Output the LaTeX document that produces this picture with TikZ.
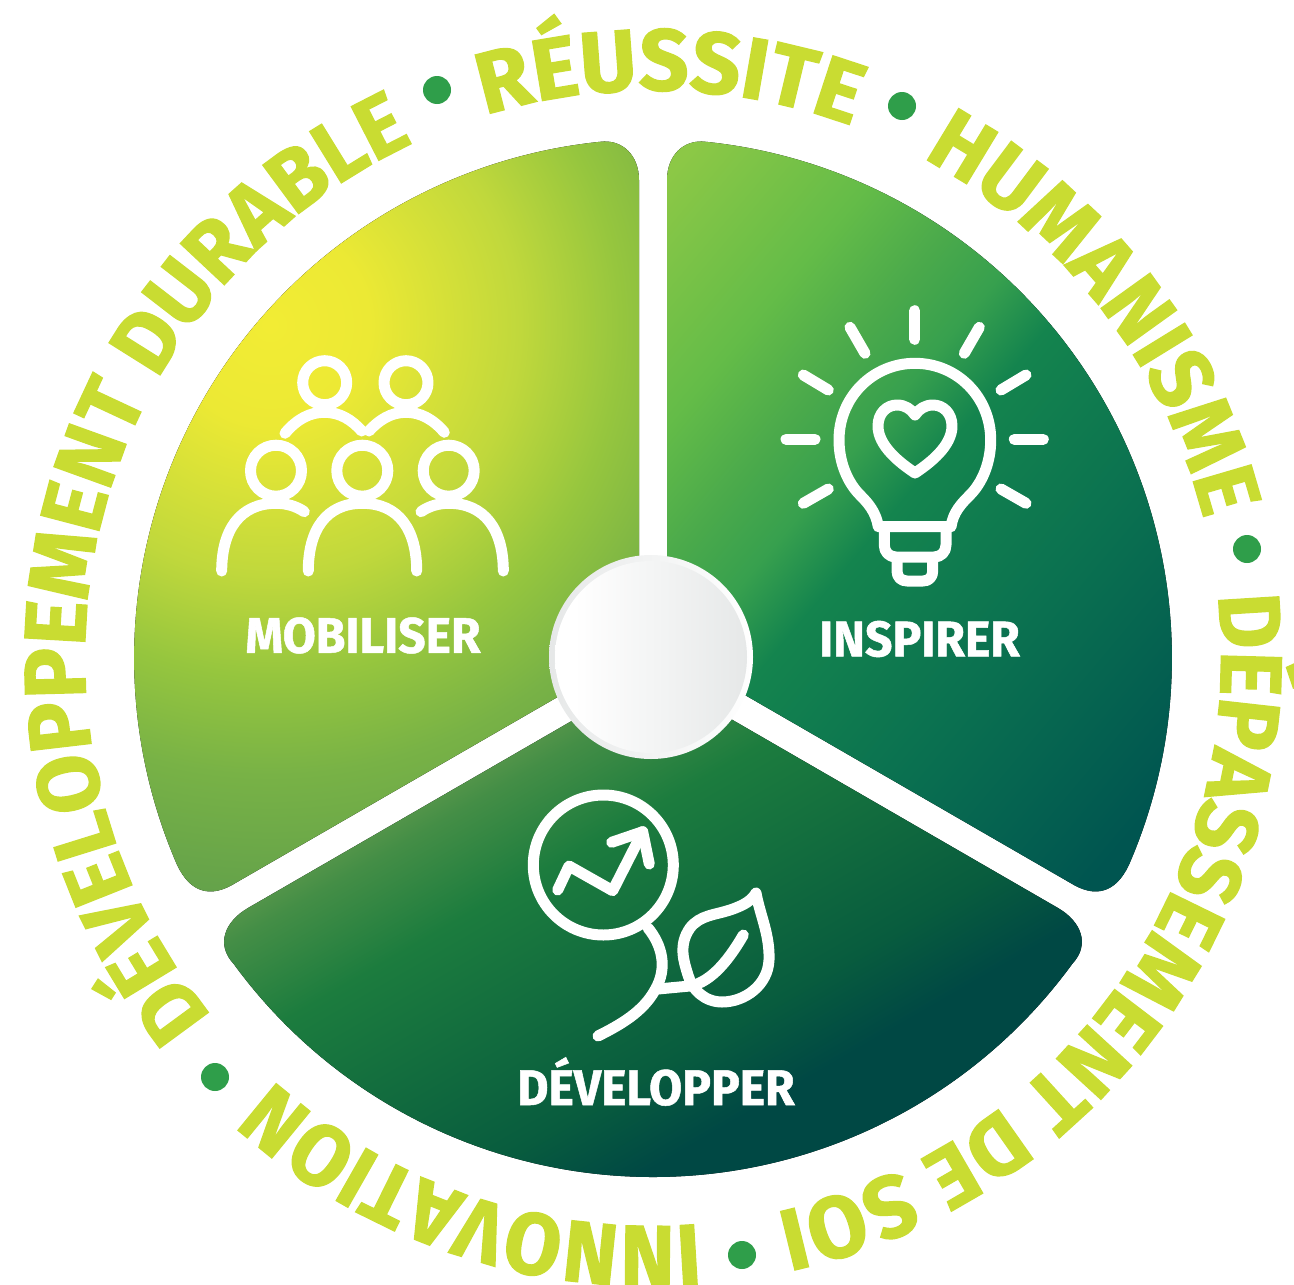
\documentclass[tikz,border=0pt]{standalone}
\usepackage{fontspec}
\usetikzlibrary{decorations.text,calc}
\newfontfamily\dinring{Fira Sans}[FakeStretch=1.0,FakeBold=1.5]
\newfontfamily\dinringb{Fira Sans}[FakeStretch=0.98,FakeBold=1.5]
\newfontfamily\dinringc{Fira Sans}[FakeStretch=0.94,FakeBold=1.5]
\newfontfamily\dinlabel{Fira Sans}[FakeStretch=0.96,FakeBold=1]
\definecolor{ringtxt}{RGB}{201,220,50}
\definecolor{ringdot}{RGB}{47,158,74}
\definecolor{ma}{RGB}{242,236,52}
\definecolor{mb}{RGB}{236,233,52}
\definecolor{mc}{RGB}{192,216,60}
\definecolor{md}{RGB}{150,198,62}
\definecolor{me}{RGB}{120,178,70}
\definecolor{mf}{RGB}{95,158,75}
\definecolor{ia}{RGB}{140,200,70}
\definecolor{ib}{RGB}{100,188,72}
\definecolor{ic}{RGB}{75,170,75}
\definecolor{id}{RGB}{55,160,78}
\definecolor{ie}{RGB}{20,132,78}
\definecolor{if}{RGB}{10,112,80}
\definecolor{ig}{RGB}{0,85,80}
\definecolor{da}{RGB}{90,152,75}
\definecolor{db}{RGB}{68,142,70}
\definecolor{dc}{RGB}{28,124,62}
\definecolor{dd}{RGB}{8,92,62}
\definecolor{de}{RGB}{0,72,68}
\definecolor{ca}{RGB}{230,232,232}
\pgfdeclareradialshading{mobg}{\pgfpoint{0bp}{0bp}}{color(0bp)=(ma);color(3.33bp)=(mb);color(8.33bp)=(mc);color(11.67bp)=(md);color(15bp)=(me);color(20bp)=(mf);color(50bp)=(mf)}
\pgfdeclarehorizontalshading{insg}{100bp}{color(0bp)=(ia);color(37.5bp)=(ia);color(44.17bp)=(ib);color(47.9bp)=(ic);color(50.83bp)=(id);color(53.75bp)=(ie);color(61.25bp)=(if);color(70bp)=(ig);color(100bp)=(ig)}
\pgfdeclarehorizontalshading{devg}{100bp}{color(0bp)=(da);color(50bp)=(da);color(51.46bp)=(db);color(55.42bp)=(dc);color(65bp)=(dd);color(68.5bp)=(de);color(100bp)=(de)}
\pgfdeclarehorizontalshading{hubout}{100bp}{color(0bp)=(ca);color(25bp)=(ca);color(75bp)=(white);color(100bp)=(white)}
\pgfdeclarehorizontalshading{hubin}{100bp}{color(0bp)=(white);color(30bp)=(white);color(75bp)=(ca);color(100bp)=(ca)}
\tikzset{
  icon/.style={draw=white,line width=11pt,line cap=round,line join=round},
  lab/.style={text=white,inner sep=0pt,font=\dinlabel\bfseries\fontsize{50}{50}\selectfont},
  dotmark/.style={circle,fill=ringdot,inner sep=0pt,minimum size=28pt},
}
\newcommand{\ringword}[4]{%
  \path[decorate,decoration={text along path,text align=center,text={|#4\bfseries\color{ringtxt}\fontsize{87}{87}\selectfont|#3}}]
    ($(c)+({270+#1-#2}:568)$) arc[start angle={270+#1-#2},end angle={270+#1+#2},radius=568];}
\begin{document}
\begin{tikzpicture}[x=1pt,y=-1pt]
\useasboundingbox (0,0) rectangle (1294,1285);
\coordinate (c) at (653,658);
% sectors
\begin{scope}
\clip (639,650) -- (232,885) .. controls (207,899) and (187,890) .. (175,860) arc[start angle=157.1,end angle=264.15,radius=519] .. controls (622,139) and (639,155) .. (639,180) -- cycle;
\fill[shading=mobg] (-480,-425) rectangle (1020,1075);
\end{scope}
\begin{scope}
\clip (667,650) -- (1074,885) .. controls (1099,899) and (1119,890) .. (1131,860) arc[start angle=22.9,end angle=-84.15,radius=519] .. controls (684,139) and (667,155) .. (667,180) -- cycle;
\fill[shading=insg,shading angle=-40] (53,58) rectangle (1253,1258);
\end{scope}
\begin{scope}
\clip (653,674) -- (1058,908) .. controls (1082,922) and (1090,945) .. (1072.3,963.8) arc[start angle=36.1,end angle=143.9,radius=519] .. controls (216,945) and (224,922) .. (248,908) -- cycle;
\fill[shading=devg,shading angle=-60] (53,58) rectangle (1253,1258);
\end{scope}
% hub
\node[circle,minimum size=204pt,inner sep=0pt,shading=hubout] (hub) at (651,657) {};
\node[circle,minimum size=192pt,inner sep=0pt,shading=hubin] (hubcore) at (651,657) {};
% people
\draw[icon] (324.7,382.7) circle[radius=22];
\draw[icon] (406,382.7) circle[radius=22];
\draw[icon] (276,470.7) circle[radius=25.5];
\draw[icon] (362.3,470.7) circle[radius=25.5];
\draw[icon] (448.7,470.7) circle[radius=25.5];
\draw[icon] (285,433.3) .. controls (297,419) and (310,412.3) .. (324.3,412.3) .. controls (340,412.3) and (352,420) .. (361.7,431);
\draw[icon] (369,431) .. controls (379,420) and (391,412.3) .. (406,412.3) .. controls (420,412.3) and (433,419) .. (444.3,432.3);
\draw[icon] (221.7,571) .. controls (221.7,530) and (240,503.3) .. (276,503.3) .. controls (286,503.3) and (296,506) .. (304.3,511.7);
\draw[icon] (308.3,571) .. controls (308.3,530) and (326,503.3) .. (362.3,503.3) .. controls (399,503.3) and (416.7,530) .. (416.7,571);
\draw[icon] (421,511.7) .. controls (429,506) and (439,503.3) .. (448.7,503.3) .. controls (485,503.3) and (503.3,530) .. (503.3,571);
% bulb
\draw[icon] (914.7,310.7) -- (914.7,339.3);
\draw[icon] (850,327.3) -- (865,353.3);
\draw[icon] (979.3,327.3) -- (964.3,353.3);
\draw[icon] (803.3,375) -- (828.3,390);
\draw[icon] (1026,375) -- (1001,390);
\draw[icon] (786,439.3) -- (815,439.3);
\draw[icon] (1014.3,439.3) -- (1043.3,439.3);
\draw[icon] (803.3,503.3) -- (828.3,489);
\draw[icon] (1026,503.3) -- (1001,489);
\draw[icon] (878.3,526.7) .. controls (876,512) and (868,503) .. (860,495) .. controls (848,483) and (839,463) .. (839,440) .. controls (839,397) and (873,363.3) .. (914.9,363.3) .. controls (957,363.3) and (990.7,397) .. (990.7,440) .. controls (990.7,463) and (982,483) .. (970,495) .. controls (962,503) and (953,512) .. (951,526.7) -- cycle;
\draw[icon] (884.3,528) -- (884.3,545) .. controls (884.3,552) and (889,557) .. (896,557) -- (934,557) .. controls (941,557) and (946,552) .. (946,545) -- (946,528);
\draw[icon] (897,562) -- (897,571) .. controls (897,577) and (901,581) .. (907,581) -- (923,581) .. controls (929,581) and (932.7,577) .. (932.7,571) -- (932.7,562);
\draw[icon] (915,473) .. controls (900,463) and (878,446) .. (878,426) .. controls (878,413) and (887,405) .. (897,405) .. controls (905,405) and (911,409) .. (915,415) .. controls (919,409) and (925,405) .. (933,405) .. controls (943,405) and (952,413) .. (952,426) .. controls (952,446) and (930,463) .. (915,473) -- cycle;
% growth
\draw[icon] (603.3,865) circle[radius=70];
\draw[icon] (557.7,890) -- (569,866) -- (612.7,890.7) -- (642.7,831.7);
\draw[icon] (611.7,842.3) -- (642.7,831.7) -- (649.3,864);
\draw[icon] (648,928) .. controls (662,945) and (668,968) .. (655,990) .. controls (643,1012) and (620,1025) .. (598,1036);
\draw[icon] (658,989) -- (690,986) .. controls (712,982) and (730,958) .. (743.3,935);
\draw[icon] (756,893) .. controls (760,915) and (770,935) .. (769,960) .. controls (768,985) and (745,1002) .. (722,1002) .. controls (705,1002) and (692,990) .. (688,975) .. controls (684,962) and (678,945) .. (690,928) .. controls (700,915) and (715,915) .. (730,910) .. controls (745,905) and (752,900) .. (756,893) -- cycle;
% labels
\node[lab] (mob) at (363,635.5) {MOBILISER};
\node[lab] (ins) at (919.5,639) {INSPIRER};
\node[lab,anchor=base] (dev) at (656,1105) {DÉVELOPPER};
% ring
\ringword{1.65}{40}{RÉUSSITE}{\dinring}
\ringword{52.1}{40}{HUMANISME}{\dinringb}
\ringword{125.6}{60}{DÉPASSEMENT DE SOI}{\dinringb}
\ringword{198.7}{40}{INNOVATION}{\dinringc}
\ringword{283.0}{70}{DÉVELOPPEMENT DURABLE}{\dinringb}
\node[dotmark] (d1) at (437,90) {};
\node[dotmark] (d2) at (902,106) {};
\node[dotmark] (d3) at (1247,549) {};
\node[dotmark] (d4) at (742,1255) {};
\node[dotmark] (d5) at (215,1077) {};
\end{tikzpicture}
\end{document}
